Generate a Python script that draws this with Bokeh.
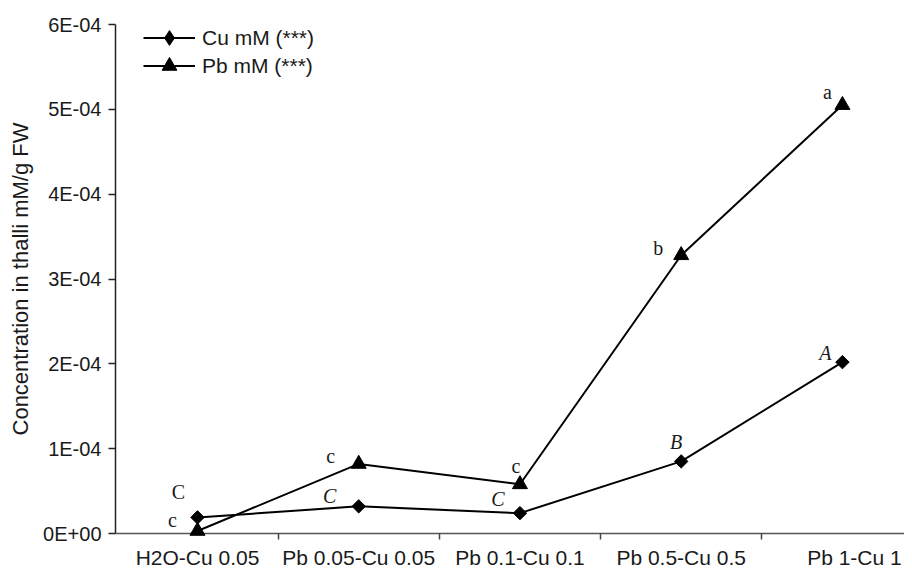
import numpy as np
from bokeh.plotting import figure
from bokeh.models import (FixedTicker, Legend, LegendItem, ColumnDataSource, Range1d)
from bokeh.core.properties import value
from bokeh.embed import file_html
from bokeh.resources import INLINE

# ---- data ----
categories = ["H2O-Cu 0.05", "Pb 0.05-Cu 0.05", "Pb 0.1-Cu 0.1", "Pb 0.5-Cu 0.5", "Pb 1-Cu 1"]
cu_values = [1.9e-05, 3.2e-05, 2.4e-05, 8.5e-05, 2.02e-04]
pb_values = [3e-06, 8.2e-05, 5.8e-05, 3.28e-04, 5.05e-04]
cu_letters = ["C", "C", "C", "B", "A"]
pb_letters = ["c", "c", "c", "b", "a"]
y_ticks = [0.0, 0.0001, 0.0002, 0.0003, 0.0004, 0.0005, 0.0006]
y_tick_labels = ["0E+00", "1E-04", "2E-04", "3E-04", "4E-04", "5E-04", "6E-04"]
y_title = "Concentration in thalli mM/g FW"
cu_name = "Cu mM (***)"
pb_name = "Pb mM (***)"

# ---- annotation placement (pixels) ----
cu_dx = [-19, -29, -22, -5, -17]
cu_dy = [-25, -10, -14, -19, -9]
cu_style = ["normal", "italic", "italic", "italic", "italic"]
pb_dx = [-25, -28, -4, -23, -15]
pb_dy = [-11, -8, -18, -7, -13]
cat_dx = [0, 0, 0, 0, 12]

xs = list(range(len(categories)))
SANS = "Liberation Sans"
SERIF = "Liberation Serif"
TXT = "#1a1a1a"

p = figure(width=904, height=570, output_backend="svg", toolbar_location=None,
           x_range=Range1d(-0.5085, 4.385), y_range=Range1d(0, 0.0006),
           min_border_left=115, min_border_top=24, min_border_bottom=37,
           min_border_right=0)
p.outline_line_color = None
p.grid.visible = False
p.background_fill_color = "white"
p.border_fill_color = "white"

# x axis: only boundary ticks, category names drawn as text below
p.xaxis.ticker = FixedTicker(ticks=[], minor_ticks=[0.5, 1.5, 2.5, 3.5])
p.xaxis.major_tick_out = 0
p.xaxis.major_tick_in = 0
p.xaxis.minor_tick_out = 6
p.xaxis.minor_tick_in = 0
p.xaxis.minor_tick_line_color = "#444444"
p.xaxis.minor_tick_line_width = 1.5
p.xaxis.axis_line_color = "#555555"
p.xaxis.axis_line_width = 1.5

# y axis
p.yaxis.ticker = FixedTicker(ticks=y_ticks, minor_ticks=[])
p.yaxis.major_label_overrides = {t: l for t, l in zip(y_ticks, y_tick_labels)}
p.yaxis.major_tick_out = 7
p.yaxis.major_tick_in = 0
p.yaxis.major_tick_line_color = "#222222"
p.yaxis.major_tick_line_width = 1.5
p.yaxis.minor_tick_line_color = None
p.yaxis.axis_line_color = "#222222"
p.yaxis.axis_line_width = 1.5
p.yaxis.major_label_text_font = SANS
p.yaxis.major_label_text_font_size = "20px"
p.yaxis.major_label_text_color = TXT
p.yaxis.major_label_standoff = 7
p.yaxis.axis_label = y_title
p.yaxis.axis_label_text_font = SANS
p.yaxis.axis_label_text_font_size = "22px"
p.yaxis.axis_label_text_font_style = "normal"
p.yaxis.axis_label_text_color = TXT
p.yaxis.axis_label_standoff = 7

src = ColumnDataSource(dict(x=xs, cu=cu_values, pb=pb_values,
                            cul=cu_letters, pbl=pb_letters,
                            cudx=cu_dx, cudy=cu_dy, cus=cu_style,
                            pbdx=pb_dx, pbdy=pb_dy))
cat_src = ColumnDataSource(dict(x=xs, y=[0.0] * len(xs), t=categories, dx=cat_dx))

cu_line = p.line("x", "cu", source=src, line_color="black", line_width=2)
# tiny diamonds under the real markers: only used for the legend sample
cu_leg = p.scatter("x", "cu", source=src, marker="diamond", size=1,
                   fill_color="black", line_color="black")
cu_mk = p.scatter("x", "cu", source=src, marker="square", size=9.5, angle=np.pi / 4,
                  fill_color="black", line_color="black")
pb_line = p.line("x", "pb", source=src, line_color="black", line_width=2)
pb_mk = p.scatter("x", "pb", source=src, marker="triangle", size=15,
                  fill_color="black", line_color="black")
pb_mk.level = "overlay"

p.text("x", "cu", text="cul", source=src, x_offset="cudx", y_offset="cudy",
       text_font=value(SERIF), text_font_size="20px", text_font_style="cus",
       text_align="center", text_baseline="middle", text_color=TXT)
p.text("x", "pb", text="pbl", source=src, x_offset="pbdx", y_offset="pbdy",
       text_font=value(SERIF), text_font_size="20px",
       text_align="center", text_baseline="middle", text_color=TXT)

cat_r = p.text("x", "y", text="t", source=cat_src, x_offset="dx", y_offset=24,
               text_font=value(SANS), text_font_size="21px",
               text_align="center", text_baseline="alphabetic", text_color=TXT)
cat_r.level = "overlay"

leg_style = dict(glyph_width=52, glyph_height=37, label_height=37, spacing=0,
                 padding=0, margin=0, border_line_color=None,
                 background_fill_alpha=0, label_text_font=SANS,
                 label_text_font_size="21px", label_text_color=TXT,
                 label_standoff=7)
legend_cu = Legend(items=[LegendItem(label=cu_name, renderers=[cu_line, cu_leg])],
                   location=(28, 477), **leg_style)
legend_pb = Legend(items=[LegendItem(label=pb_name, renderers=[pb_line, pb_mk])],
                   location=(28, 449), **leg_style)
p.add_layout(legend_cu)
p.add_layout(legend_pb)

open("out.html", "w").write(file_html(p, INLINE))
